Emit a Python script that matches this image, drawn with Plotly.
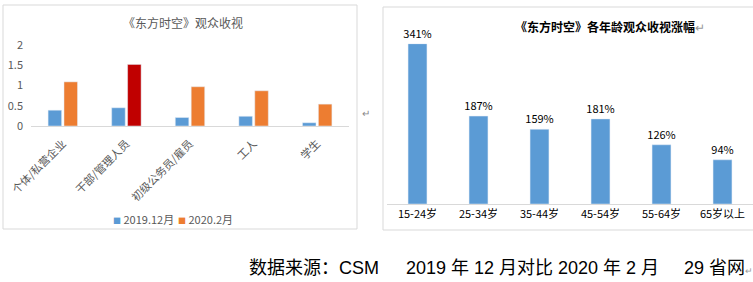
import plotly.graph_objects as go

# Left chart data
occupations = ["个体/私营企业", "干部/管理人员", "初级公务员/雇员", "工人", "学生"]
dec2019 = [0.39, 0.45, 0.21, 0.24, 0.08]
feb2020 = [1.09, 1.52, 0.97, 0.87, 0.54]
series_names = ["2019.12月", "2020.2月"]

# Right chart data
age_groups = ["15-24岁", "25-34岁", "35-44岁", "45-54岁", "55-64岁", "65岁以上"]
growth_pct = [341, 187, 159, 181, 126, 94]

W, H = 753, 282
def px(x):
    return x / W
def py(y):
    return 1 - y / H

BLUE = "#5b9bd5"
ORANGE = "#ed7d31"
RED = "#c00000"
GRAY = "#595959"
FONT = "Noto Sans CJK SC"
CAP_FONT = "Liberation Sans, Noto Sans CJK SC"

fig = go.Figure()

orange_colors = [ORANGE] * len(feb2020)
orange_colors[1] = RED

fig.add_trace(go.Bar(x=occupations, y=dec2019, name=series_names[0], marker_color=BLUE,
                     showlegend=False, xaxis="x", yaxis="y"))
fig.add_trace(go.Bar(x=occupations, y=feb2020, name=series_names[1], marker_color=orange_colors,
                     showlegend=False, xaxis="x", yaxis="y"))
fig.add_trace(go.Bar(x=age_groups, y=growth_pct, marker_color=BLUE, showlegend=False,
                     text=[f"{v}%" for v in growth_pct], textposition="outside",
                     constraintext="none",
                     textfont=dict(size=11, color="#000000", family=FONT),
                     cliponaxis=False, width=0.31,
                     xaxis="x2", yaxis="y2"))

fig.update_layout(
    width=W, height=H, margin=dict(l=0, r=0, t=0, b=0, autoexpand=False),
    paper_bgcolor="white", plot_bgcolor="white",
    font=dict(family=FONT, color=GRAY, size=10),
    barmode="group", bargap=0.5, bargroupgap=0.15,
    showlegend=False,
    xaxis=dict(domain=[px(31), px(349)], anchor="y", showgrid=False, automargin=False,
               showline=True, linecolor="#d9d9d9", linewidth=1, ticks="",
               tickangle=-45, ticklabelstandoff=6,
               tickfont=dict(size=11, color=GRAY, family=FONT)),
    yaxis=dict(domain=[py(126), py(45)], anchor="x", range=[0, 2], dtick=0.5,
               showgrid=False, zeroline=False, showline=False, automargin=False,
               tickfont=dict(size=11, color=GRAY, family=FONT), ticklabelstandoff=7),
    xaxis2=dict(domain=[px(387), 1.0], anchor="y2", showgrid=False, automargin=False,
                showline=True, linecolor="#d9d9d9", linewidth=1, ticks="",
                tickfont=dict(size=11, color="#000000", family=FONT)),
    yaxis2=dict(domain=[py(204), py(43.7)], anchor="x2", range=[0, 341],
                visible=False, showgrid=False, zeroline=False),
    shapes=[
        dict(type="rect", xref="paper", yref="paper", x0=px(3), x1=px(357), y0=py(229), y1=py(5),
             line=dict(color="#d9d9d9", width=1)),
        dict(type="rect", xref="paper", yref="paper", x0=px(383), x1=px(760), y0=py(230), y1=py(7),
             line=dict(color="#d9d9d9", width=1)),
    ],
    annotations=[
        dict(text="《东方时空》观众收视", xref="paper", yref="paper", x=px(183), y=py(22),
             xanchor="center", yanchor="middle", showarrow=False,
             font=dict(size=12, color=GRAY, family=FONT)),
        dict(text=f"<span style='font-size:8px;color:{BLUE}'>■</span> {series_names[0]}",
             xref="paper", yref="paper", x=px(111), y=py(219),
             xanchor="left", yanchor="middle", showarrow=False,
             font=dict(size=11, color=GRAY, family=FONT)),
        dict(text=f"<span style='font-size:8px;color:{ORANGE}'>■</span> {series_names[1]}",
             xref="paper", yref="paper", x=px(176), y=py(219),
             xanchor="left", yanchor="middle", showarrow=False,
             font=dict(size=11, color=GRAY, family=FONT)),
        dict(text="<b>《东方时空》各年龄观众收视涨幅</b><span style='color:#999999'>↵</span>",
             xref="paper", yref="paper", x=px(610), y=py(27),
             xanchor="center", yanchor="middle", showarrow=False,
             font=dict(size=12, color="#000000", family=FONT)),
        dict(text="↵", xref="paper", yref="paper", x=px(366), y=py(112),
             xanchor="center", yanchor="middle", showarrow=False,
             font=dict(size=10, color="#888888", family=FONT)),
        dict(text="数据来源：CSM",
             xref="paper", yref="paper", x=px(247), y=py(268),
             xanchor="left", yanchor="middle", showarrow=False,
             font=dict(size=18, color="#000000", family=CAP_FONT)),
        dict(text="2019 年 12 月对比 2020 年 2 月",
             xref="paper", yref="paper", x=px(404), y=py(268),
             xanchor="left", yanchor="middle", showarrow=False,
             font=dict(size=18, color="#000000", family=CAP_FONT)),
        dict(text="29 省网<span style='color:#999999;font-size:9px'>↵</span>",
             xref="paper", yref="paper", x=px(682), y=py(268),
             xanchor="left", yanchor="middle", showarrow=False,
             font=dict(size=18, color="#000000", family=CAP_FONT)),
    ],
)

fig.write_html("out.html")
